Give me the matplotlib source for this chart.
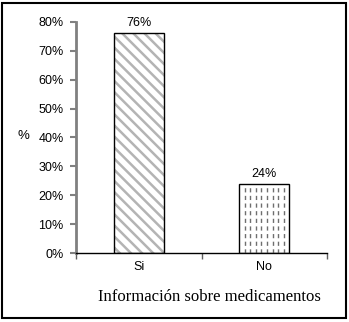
import matplotlib.pyplot as plt
from matplotlib.patches import Rectangle
import numpy as np

categories = ["Si", "No"]
values = [0.76, 0.24]
value_labels = ["76%", "24%"]
yticks = [0.0, 0.1, 0.2, 0.3, 0.4, 0.5, 0.6, 0.7, 0.8]
ytick_labels = ["0%", "10%", "20%", "30%", "40%", "50%", "60%", "70%", "80%"]

plt.rcParams['hatch.linewidth'] = 1.8

fig = plt.figure(figsize=(3.49, 3.22), dpi=100)
ax = fig.add_axes([0.218, 0.214, 0.719, 0.718])

x = np.arange(len(categories))

# gray diagonal stripes for the first bar (hatch takes the edge colour)
ax.bar(x[:1], values[:1], width=0.4, color='white', edgecolor='#b4b4b4',
       linewidth=0, hatch='\\\\\\', zorder=2)
# outlines on top
bars = ax.bar(x, values, width=0.4, color='none', edgecolor='black',
              linewidth=1.0, zorder=4)

# dashed vertical fill on the second bar
b = bars[1]
x0, w, h = b.get_x(), b.get_width(), b.get_height()
xs = np.linspace(x0, x0 + w, 10)[1:-1]
ax.vlines(xs, 0, h, colors='#6e6e6e', linestyles=(0, (3, 2.5)),
          linewidth=1.0, zorder=3)

for bar, lab in zip(bars, value_labels):
    ax.annotate(lab, xy=(bar.get_x() + bar.get_width() / 2, bar.get_height()),
                xytext=(0, 3), textcoords="offset points",
                ha='center', va='bottom', fontsize=9,
                family='Liberation Sans')

ax.set_xlim(-0.5, 1.5)
ax.set_ylim(0, 0.8)
ax.set_yticks(yticks)
ax.set_yticklabels(ytick_labels, family='Liberation Sans', fontsize=9)
ax.set_xticks(x)
ax.set_xticklabels(categories, family='Liberation Sans', fontsize=9)
ax.set_xticks([-0.5, 0.5, 1.5], minor=True)
ax.tick_params(axis='x', which='major', length=0, pad=6)
ax.tick_params(axis='x', which='minor', length=4, width=1, color='#606060')
ax.tick_params(axis='y', length=4, width=1.5, color='#808080', pad=5)

ax.spines['top'].set_visible(False)
ax.spines['right'].set_visible(False)
ax.spines['left'].set_color('#808080')
ax.spines['left'].set_linewidth(2)
ax.spines['bottom'].set_color('black')
ax.spines['bottom'].set_linewidth(1)

ax.set_xlabel("Información sobre medicamentos", family='Liberation Serif',
              fontsize=12)
ax.xaxis.set_label_coords(0.53, -0.155)
ax.set_ylabel("%", family='Liberation Sans', fontsize=9.5, rotation=0)
ax.yaxis.set_label_coords(-0.21, 0.48)

# frame around the whole figure
fig.patches.append(Rectangle((0.007, 0.013), 0.985, 0.979,
                             transform=fig.transFigure, fill=False,
                             edgecolor='black', linewidth=1.5))

plt.savefig("out.png", dpi=100)
plt.close()
